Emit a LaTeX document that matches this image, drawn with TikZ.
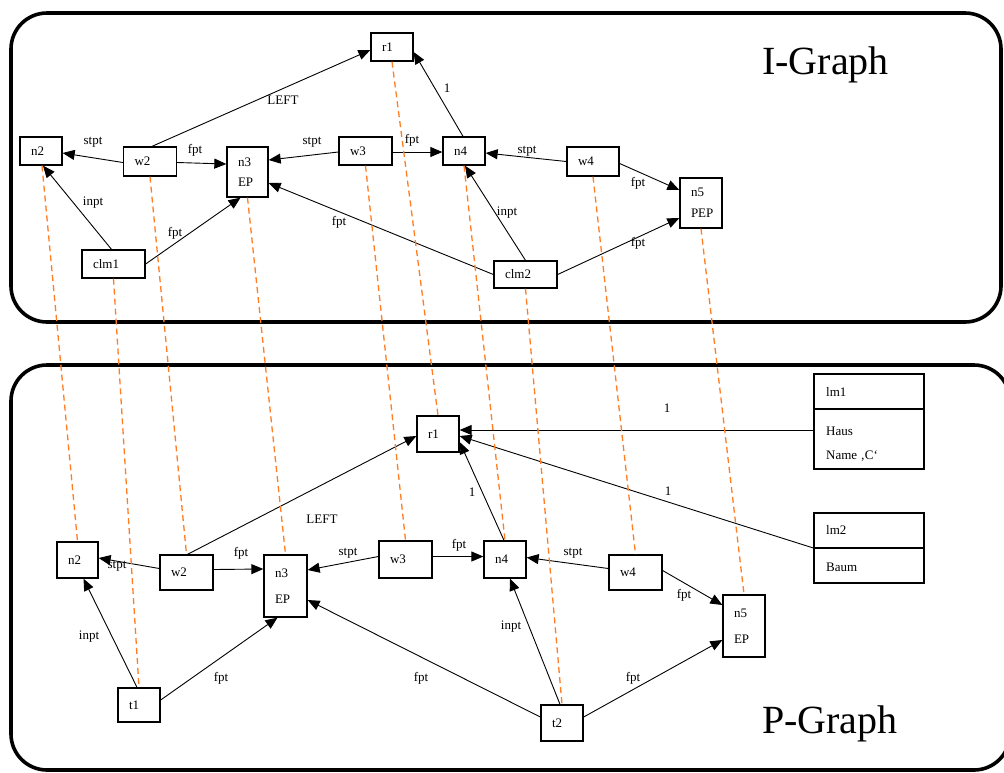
\documentclass[tikz,border=0pt]{standalone}
\usepackage{fontspec}
\setmainfont{Liberation Serif}
\usetikzlibrary{arrows.meta}
\definecolor{mapline}{RGB}{255,125,35}
\begin{document}
\begin{tikzpicture}[x=1pt,y=-1pt,
  box/.style={draw, line width=1.3pt, inner xsep=11pt, inner ysep=0pt, align=left,
    font=\fontsize{13}{15}\selectfont},
  box2/.style={box, font=\fontsize{13}{#1}\selectfont},
  plainbox/.style={draw, line width=1.3pt, inner sep=0pt},
  txt/.style={font=\fontsize{13}{15}\selectfont, inner sep=0pt, anchor=west},
  edge/.style={line width=0.9pt, -{Triangle[length=12pt,width=10pt]}},
  lbl/.style={font=\fontsize{13}{15}\selectfont, inner sep=0.5pt},
  map/.style={draw=mapline, line width=1.3pt, dash pattern=on 6pt off 4pt},
  frame/.style={line width=3.6pt, rounded corners=36pt},
  title/.style={font=\fontsize{40}{44}\selectfont, anchor=base west, inner sep=0pt}
]
\useasboundingbox (0,0) rectangle (1004,772);

% the two graph frames
\draw[frame] (11,13) rectangle (1001,322);
\draw[frame] (11,365) rectangle (1010,770);
\node[title] (ititle) at (762,74) {I-Graph};
\node[title] (ptitle) at (762,733) {P-Graph};

% ---------------- I-Graph ----------------
\node[box, text width=20pt, minimum height=28pt] (ir1) at (392,47) {r1};
\node[box, text width=20pt, minimum height=28pt] (in2) at (41,151) {n2};
\node[box, text width=31pt, minimum height=29pt] (iw2) at (150,161.5) {w2};
\node[box2=20, text width=19pt, minimum height=50pt] (in3) at (247.5,172) {n3\\EP};
\node[box, text width=41pt, minimum height=28pt] (iclm1) at (113.5,264) {clm1};
\node[box, text width=31pt, minimum height=28pt] (iw3) at (365.5,151) {w3};
\node[box, text width=20pt, minimum height=28pt] (in4) at (464,151) {n4};
\node[box, text width=30pt, minimum height=29pt] (iw4) at (593,161.5) {w4};
\node[box, text width=41pt, minimum height=27pt] (iclm2) at (525.5,274.5) {clm2};
\node[box2=21, text width=20pt, minimum height=50pt] (in5) at (701,203) {n5\\PEP};

\draw[edge] ([xshift=2pt]iw2.north) -- ([yshift=-3pt]ir1.west);
\draw[edge] ([yshift=-1pt]iw2.west) -- ([yshift=-2pt]in2.east);
\draw[edge] ([yshift=-1pt]iw2.east) -- ([yshift=8pt]in3.west);
\draw[edge] ([xshift=-2pt]iclm1.north) -- ([xshift=2pt]in2.south);
\draw[edge] (iclm1.east) -- ([xshift=-7pt]in3.south);
\draw[edge] ([yshift=-1pt]iw3.west) -- ([yshift=12pt]in3.east);
\draw[edge] ([yshift=-1pt]iw3.east) -- ([yshift=-1pt]in4.west);
\draw[edge] ([xshift=-1pt]in4.north) -- ([yshift=-5pt]ir1.east);
\draw[edge] (iw4.west) -- ([yshift=-2pt]in4.east);
\draw[edge] (iclm2.west) -- ([yshift=-11pt]in3.east);
\draw[edge] (iclm2.north) -- ([xshift=1pt]in4.south);
\draw[edge] ([yshift=-2pt]iw4.east) -- ([yshift=13pt]in5.west);
\draw[edge] (iclm2.east) -- ([yshift=-15pt]in5.west);

\node[lbl] (il1) at (283,100) {LEFT};
\node[lbl] (il2) at (93,142) {stpt};
\node[lbl] (il3) at (195,150) {fpt};
\node[lbl] (il4) at (93,203) {inpt};
\node[lbl] (il5) at (175,233) {fpt};
\node[lbl] (il6) at (312,142) {stpt};
\node[lbl] (il7) at (412,140) {fpt};
\node[lbl] (il8) at (447,88) {1};
\node[lbl] (il9) at (527,151) {stpt};
\node[lbl] (il10) at (339,222) {fpt};
\node[lbl] (il11) at (507,213) {inpt};
\node[lbl] (il12) at (638,183) {fpt};
\node[lbl] (il13) at (638,243) {fpt};

% ---------------- P-Graph ----------------
\node[box, text width=20pt, minimum height=36pt] (pr1) at (438,434) {r1};
\node[box, text width=19pt, minimum height=36pt] (pn2) at (77.5,560) {n2};
\node[box, text width=31pt, minimum height=35pt] (pw2) at (186.5,572.5) {w2};
\node[box2=26, text width=21pt, minimum height=62pt] (pn3) at (285.5,586) {n3\\EP};
\node[box, text width=20pt, minimum height=34pt] (pt1) at (139,705) {t1};
\node[box, text width=31pt, minimum height=37pt] (pw3) at (405.5,559.5) {w3};
\node[box, text width=20pt, minimum height=37pt] (pn4) at (505,559.5) {n4};
\node[box, text width=31pt, minimum height=35pt] (pw4) at (635.5,572.5) {w4};
\node[box, text width=20pt, minimum height=36pt] (pt2) at (562,723) {t2};
\node[box2=26, text width=20pt, minimum height=62pt] (pn5) at (744,626) {n5\\EP};

% lexicon entries
\node[plainbox, minimum width=110pt, minimum height=95pt] (plm1) at (869,421.5) {};
\draw[line width=1.3pt] (plm1.west |- 0,409) -- (plm1.east |- 0,409);
\node[txt] (plm1a) at (826,392) {lm1};
\node[txt] (plm1b) at (826,431) {Haus};
\node[txt] (plm1c) at (826,456) {Name ‚C‘};
\node[plainbox, minimum width=110pt, minimum height=70pt] (plm2) at (869,548) {};
\draw[line width=1.3pt] (plm2.west |- 0,548) -- (plm2.east |- 0,548);
\node[txt] (plm2a) at (826,530) {lm2};
\node[txt] (plm2b) at (826,567) {Baum};

\draw[edge] ([xshift=1pt]pw2.north) -- ([yshift=-2pt]pr1.west);
\draw[edge] ([yshift=4pt]pw2.west) -- ([yshift=2pt]pn2.east);
\draw[edge] ([yshift=3pt]pw2.east) -- ([yshift=17pt]pn3.west);
\draw[edge] ([xshift=-2pt]pt1.north) -- ([xshift=6pt]pn2.south);
\draw[edge] ([yshift=5pt]pt1.east) -- ([xshift=-8pt]pn3.south);
\draw[edge] ([yshift=3pt]pw3.west) -- ([yshift=16pt]pn3.east);
\draw[edge] ([yshift=3pt]pw3.east) -- ([yshift=3pt]pn4.west);
\draw[edge] ([xshift=-1pt]pn4.north) -- ([yshift=-8pt]pr1.east);
\draw[edge] ([yshift=4pt]pw4.west) -- ([yshift=2pt]pn4.east);
\draw[edge] ([yshift=6pt]pt2.west) -- ([yshift=-14pt]pn3.east);
\draw[edge] ([xshift=-2pt]pt2.north) -- ([xshift=5pt]pn4.south);
\draw[edge] ([yshift=2pt]pw4.east) -- ([yshift=21pt]pn5.west);
\draw[edge] ([yshift=6pt]pt2.east) -- ([yshift=-14pt]pn5.west);
\draw[edge] ([yshift=-8.5pt]plm1.west) -- ([yshift=4pt]pr1.east);
\draw[edge] (plm2.west) -- ([yshift=-2pt]pr1.east);

\node[lbl] (pl1) at (322,519) {LEFT};
\node[lbl] (pl2) at (117,566) {stpt};
\node[lbl] (pl3) at (241,553) {fpt};
\node[lbl] (pl4) at (89,637) {inpt};
\node[lbl] (pl5) at (221,678) {fpt};
\node[lbl] (pl6) at (348,553) {stpt};
\node[lbl] (pl7) at (459,545) {fpt};
\node[lbl] (pl8) at (472,492) {1};
\node[lbl] (pl9) at (573,553) {stpt};
\node[lbl] (pl10) at (421,678) {fpt};
\node[lbl] (pl11) at (511,627) {inpt};
\node[lbl] (pl12) at (684,595) {fpt};
\node[lbl] (pl13) at (633,678) {fpt};
\node[lbl] (pl14) at (667,408) {1};
\node[lbl] (pl15) at (668,491) {1};

% correspondences between the two graphs
\draw[map] ([xshift=1pt]in2.south) -- (pn2.north);
\draw[map] (iw2.south) -- (pw2.north);
\draw[map] (iclm1.south) -- (pt1.north);
\draw[map] (in3.south) -- (pn3.north);
\draw[map] (ir1.south) -- (pr1.north);
\draw[map] (iw3.south) -- (pw3.north);
\draw[map] (in4.south) -- (pn4.north);
\draw[map] (iw4.south) -- (pw4.north);
\draw[map] (iclm2.south) -- (pt2.north);
\draw[map] (in5.south) -- (pn5.north);
\end{tikzpicture}
\end{document}
